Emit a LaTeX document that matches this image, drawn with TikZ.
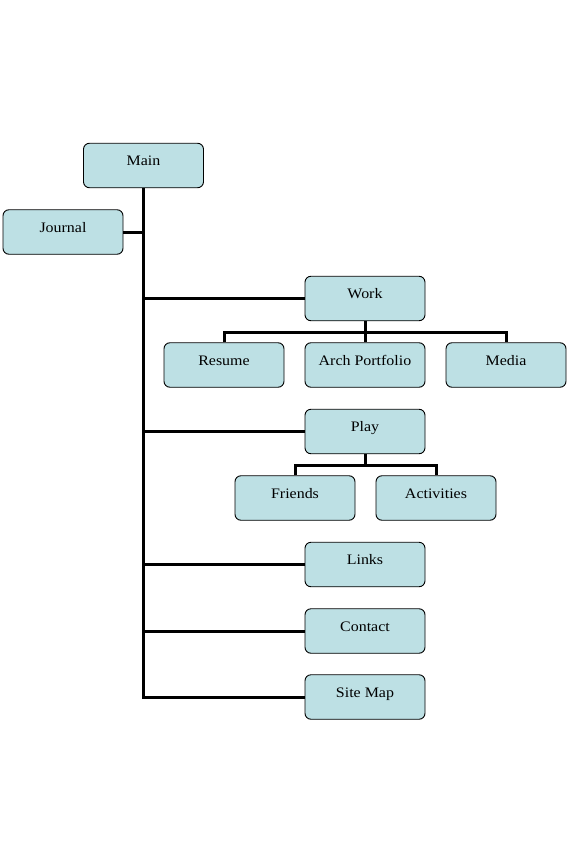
\documentclass[tikz,border=0pt]{standalone}
\usepackage{fontspec}
\setmainfont{Liberation Serif}[FakeStretch=1.1]
\definecolor{boxfill}{RGB}{189,224,228}
\begin{document}
\begin{tikzpicture}[x=1pt,y=-1pt,
  pagebox/.style={draw=black,line width=0.9pt,fill=boxfill,rounded corners=6pt,
    minimum width=120pt,minimum height=44.5pt,inner sep=0pt,
    text height=9.5pt,text depth=9.5pt,font=\fontsize{14.5}{16}\selectfont},
  link/.style={line width=3pt}]
\useasboundingbox (0,0) rectangle (570,864);
\node[pagebox] (main) at (143.5,165.5) {Main};
\node[pagebox] (journal) at (63,232) {Journal};
\node[pagebox] (work) at (365,298.5) {Work};
\node[pagebox] (resume) at (224,365) {Resume};
\node[pagebox] (arch) at (365,365) {Arch Portfolio};
\node[pagebox] (media) at (506,365) {Media};
\node[pagebox] (play) at (365,431.5) {Play};
\node[pagebox] (friends) at (295,498) {Friends};
\node[pagebox] (activities) at (436,498) {Activities};
\node[pagebox] (links) at (365,564.5) {Links};
\node[pagebox] (contact) at (365,631) {Contact};
\node[pagebox] (sitemap) at (365,697) {Site Map};
\coordinate (trunkend) at (main.south |- sitemap.west);
% trunk
\draw[link] (main.south) -- (trunkend) -- (sitemap.west);
\draw[link] (journal.east) -- (main.south |- journal.east);
\draw[link] (main.south |- work.west) -- (work.west);
\draw[link] (main.south |- play.west) -- (play.west);
\draw[link] (main.south |- links.west) -- (links.west);
\draw[link] (main.south |- contact.west) -- (contact.west);
% work subtree
\coordinate (wbar) at (365,332);
\draw[link] (work.south) -- (arch.north);
\draw[link] (resume.north) -- (resume.north |- wbar) -- (media.north |- wbar) -- (media.north);
% play subtree
\coordinate (pbar) at (365,465);
\draw[link] (play.south) -- (pbar);
\draw[link] (friends.north) -- (friends.north |- pbar) -- (activities.north |- pbar) -- (activities.north);
\end{tikzpicture}
\end{document}
